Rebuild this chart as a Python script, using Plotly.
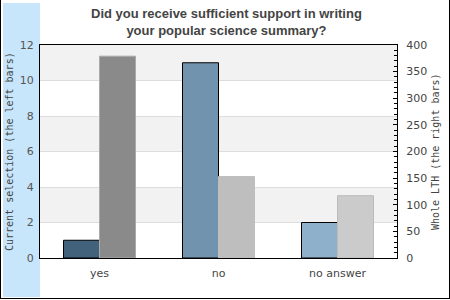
import plotly.graph_objects as go

categories = ["yes", "no", "no answer"]
current_selection = [1, 11, 2]
whole_lth = [379, 153, 117]

left_colors = ["#42617b", "#7293ae", "#8fb0cb"]
right_colors = ["#8a8a8a", "#bebebe", "#cbcbcb"]
right_lines = ["#aaaaaa", "#bebebe", "#bbbbbb"]

L, R, T, B = 40, 53, 45, 42
W, H = 450, 300
pw, ph = W - L - R, H - T - B

def px(x):
    return (x - L) / pw

def py(y):
    return (H - B - y) / ph

fig = go.Figure()
fig.add_trace(go.Bar(x=categories, y=current_selection, yaxis="y", offsetgroup="1",
                     marker=dict(color=left_colors, line=dict(color="#000", width=1)),
                     hoverinfo="skip"))
fig.add_trace(go.Bar(x=categories, y=whole_lth, yaxis="y2", offsetgroup="2",
                     marker=dict(color=right_colors, line=dict(color=right_lines, width=1)),
                     hoverinfo="skip"))

shapes = []
shapes.append(dict(type="rect", xref="paper", yref="paper", x0=px(3), x1=px(40), y0=py(297), y1=py(3),
                   fillcolor="#c8e6fb", line=dict(width=0), layer="below"))
shapes.append(dict(type="line", xref="paper", yref="paper", x0=px(0.5), x1=px(0.5), y0=py(299), y1=py(0),
                   line=dict(color="#000", width=1)))
shapes.append(dict(type="line", xref="paper", yref="paper", x0=px(449.5), x1=px(449.5), y0=py(299), y1=py(0),
                   line=dict(color="#000", width=1)))
shapes.append(dict(type="line", xref="paper", yref="paper", x0=px(0), x1=px(450), y0=py(298.5), y1=py(298.5),
                   line=dict(color="#000", width=1)))
for lo in [10, 6, 2]:
    shapes.append(dict(type="rect", xref="paper", yref="y", x0=0, x1=1, y0=lo, y1=lo + 2,
                       fillcolor="#f2f2f2", line=dict(width=0), layer="below"))

fig.update_layout(
    width=W, height=H,
    margin=dict(l=L, r=R, t=T, b=B),
    paper_bgcolor="white", plot_bgcolor="rgba(0,0,0,0)",
    showlegend=False,
    barmode="group", bargap=0.395, bargroupgap=0,
    xaxis=dict(showline=True, linecolor="#000", linewidth=1, mirror=True, showgrid=False,
               tickfont=dict(family="DejaVu Sans", size=11, color="#444"), ticks="", ticklabelstandoff=5),
    yaxis=dict(range=[0, 12], dtick=2, showline=True, linecolor="#000", linewidth=1,
               showgrid=True, gridcolor="#dddddd", gridwidth=1, zeroline=False, ticks="",
               tickfont=dict(family="DejaVu Sans", size=11, color="#555"), ticklabelstandoff=3),
    yaxis2=dict(range=[0, 400], dtick=50, overlaying="y", side="right", showline=True,
                linecolor="#000", linewidth=1, showgrid=False, zeroline=False,
                ticks="inside", ticklen=4, tickcolor="#000",
                minor=dict(dtick=10, ticks="inside", ticklen=3, tickcolor="#000"),
                tickfont=dict(family="DejaVu Sans", size=11, color="#444"), ticklabelstandoff=6),
    shapes=shapes,
    annotations=[
        dict(text="<b>Did you receive sufficient support in writing<br>your popular science summary?</b>",
             xref="paper", yref="paper", x=px(226), y=py(4), xanchor="center", yanchor="top",
             showarrow=False, align="center",
             font=dict(family="Liberation Sans, Arial", size=13, color="#444")),
        dict(text="Current selection (the left bars)", xref="paper", yref="paper",
             x=px(9), y=py(152), textangle=-90, showarrow=False, xanchor="center", yanchor="middle",
             font=dict(family="DejaVu Sans Mono", size=10, color="#444")),
        dict(text="Whole LTH (the right bars)", xref="paper", yref="paper",
             x=px(435), y=py(152), textangle=-90, showarrow=False, xanchor="center", yanchor="middle",
             font=dict(family="DejaVu Sans Mono", size=10, color="#444")),
    ],
)

fig.write_html("out.html")
